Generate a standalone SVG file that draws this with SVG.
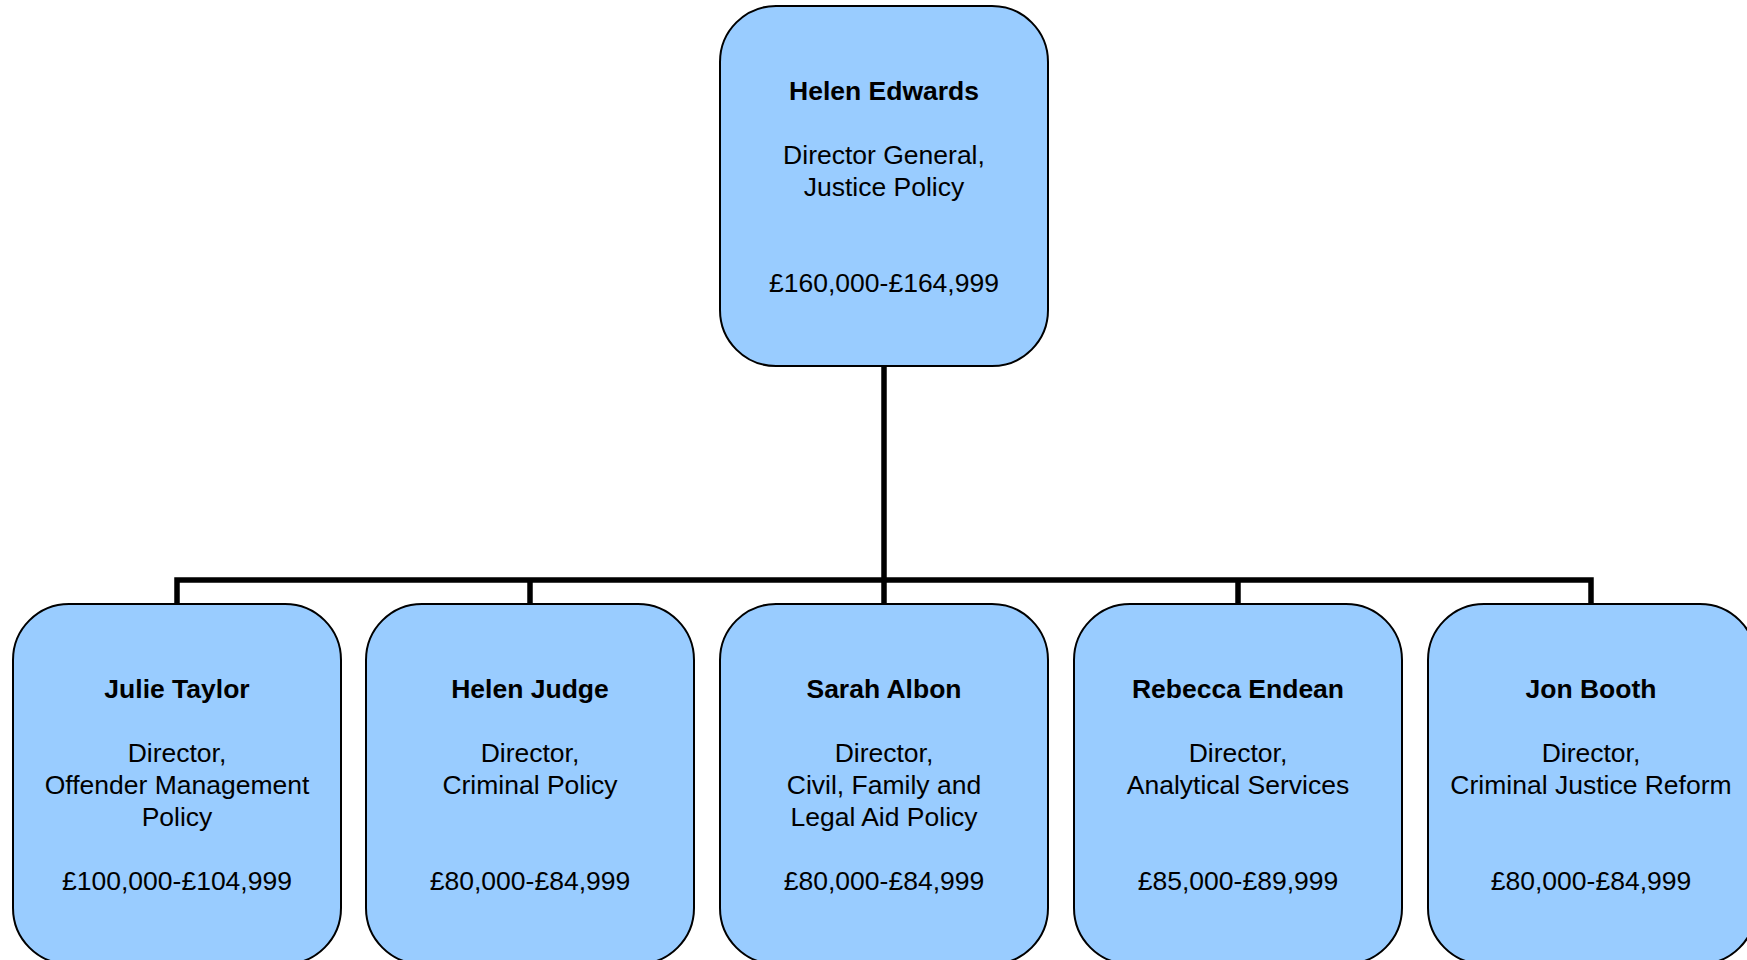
<svg xmlns="http://www.w3.org/2000/svg" width="1747" height="960" viewBox="0 0 1747 960">
  <style>
    .box { fill: #99CCFF; stroke: #000; stroke-width: 2; }
    .link { fill: none; stroke: #000; stroke-width: 5.5; }
    text { font-family: "Liberation Sans", Arial, sans-serif; font-size: 26.5px; fill: #000; text-anchor: middle; }
    .name { font-weight: bold; }
  </style>
  <rect width="1747" height="960" fill="#fff"/>

  <!-- reporting lines -->
  <g id="connectors">
    <path class="link" d="M884,366 V580"/>
    <path class="link" d="M177,604 V580 H1591 V604"/>
    <path class="link" d="M530,580 V604"/>
    <path class="link" d="M884,580 V604"/>
    <path class="link" d="M1238,580 V604"/>
  </g>

  <g id="helen-edwards">
    <rect class="box" x="720" y="6" width="328" height="360" rx="56" ry="56"/>
    <text class="name" x="884" y="100">Helen Edwards</text>
    <text x="884" y="164">Director General,</text>
    <text x="884" y="196">Justice Policy</text>
    <text x="884" y="292">£160,000-£164,999</text>
  </g>

  <g id="julie-taylor">
    <rect class="box" x="13" y="604" width="328" height="360" rx="56" ry="56"/>
    <text class="name" x="177" y="698">Julie Taylor</text>
    <text x="177" y="762">Director,</text>
    <text x="177" y="794">Offender Management</text>
    <text x="177" y="826">Policy</text>
    <text x="177" y="890">£100,000-£104,999</text>
  </g>

  <g id="helen-judge">
    <rect class="box" x="366" y="604" width="328" height="360" rx="56" ry="56"/>
    <text class="name" x="530" y="698">Helen Judge</text>
    <text x="530" y="762">Director,</text>
    <text x="530" y="794">Criminal Policy</text>
    <text x="530" y="890">£80,000-£84,999</text>
  </g>

  <g id="sarah-albon">
    <rect class="box" x="720" y="604" width="328" height="360" rx="56" ry="56"/>
    <text class="name" x="884" y="698">Sarah Albon</text>
    <text x="884" y="762">Director,</text>
    <text x="884" y="794">Civil, Family and</text>
    <text x="884" y="826">Legal Aid Policy</text>
    <text x="884" y="890">£80,000-£84,999</text>
  </g>

  <g id="rebecca-endean">
    <rect class="box" x="1074" y="604" width="328" height="360" rx="56" ry="56"/>
    <text class="name" x="1238" y="698">Rebecca Endean</text>
    <text x="1238" y="762">Director,</text>
    <text x="1238" y="794">Analytical Services</text>
    <text x="1238" y="890">£85,000-£89,999</text>
  </g>

  <g id="jon-booth">
    <rect class="box" x="1428" y="604" width="328" height="360" rx="56" ry="56"/>
    <text class="name" x="1591" y="698">Jon Booth</text>
    <text x="1591" y="762">Director,</text>
    <text x="1591" y="794">Criminal Justice Reform</text>
    <text x="1591" y="890">£80,000-£84,999</text>
  </g>
</svg>
